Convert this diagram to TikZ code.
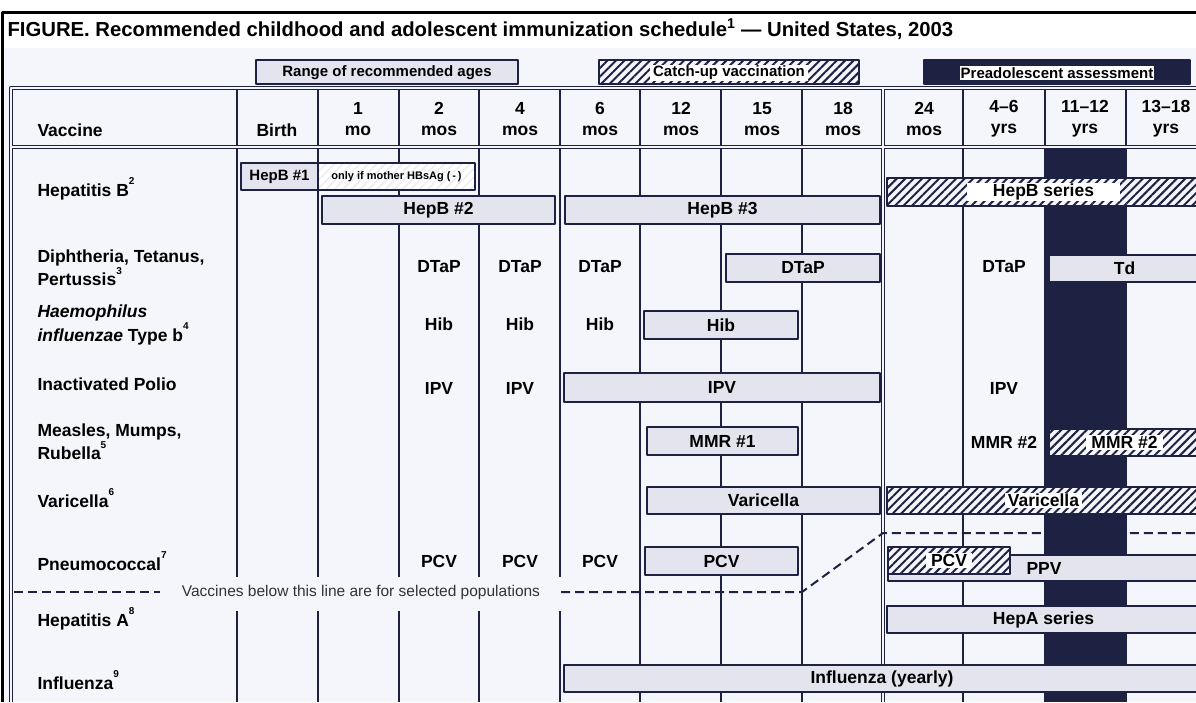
\documentclass[tikz,border=0pt]{standalone}
\usepackage{fontspec}
\setmainfont{Liberation Sans}
\usetikzlibrary{fit,patterns.meta}

\definecolor{navy}{HTML}{1E2242}
\definecolor{lavender}{HTML}{E4E4EF}
\definecolor{paper}{HTML}{F5F6FB}

\tikzset{
  hdr/.style={font=\bfseries\fontsize{17.5}{21}\selectfont,align=center},
  vac/.style={font=\bfseries\fontsize{17.5}{22}\selectfont,align=left,anchor=west},
  dose/.style={font=\bfseries\fontsize{17.5}{18}\selectfont},
  bar/.style={draw=navy,line width=1.6pt,fill=lavender,inner sep=0pt},
  catchup/.style={draw=navy,line width=1.6pt,inner sep=0pt,preaction={fill=paper},
    pattern={Lines[angle=45,distance=6pt,line width=2pt]},pattern color=navy},
  faint/.style={draw=navy,line width=1.6pt,inner sep=0pt,preaction={fill=white},
    pattern={Lines[angle=45,distance=6pt,line width=1.5pt]},pattern color=lavender!70},
  every label/.style={inner sep=0pt,font=\bfseries\fontsize{17.5}{18}\selectfont},
  tag/.style={fill=white,inner ysep=1pt},
  keytext/.style={font=\bfseries\fontsize{15}{15}\selectfont,yshift=-1pt},
  gridline/.style={navy,line width=2.4pt},
  sepline/.style={navy,line width=2pt,dash pattern=on 9pt off 5pt},
}
\newcommand{\fnote}[1]{\raisebox{1.25ex}{\fontsize{10}{10}\selectfont #1}}

\begin{document}
\begin{tikzpicture}[x=1pt,y=-1pt,line join=round]
\useasboundingbox (0,0) rectangle (1196,702);
\clip (0,0) rectangle (1196,702);
\fill[white] (0,0) rectangle (1196,702);
\fill[paper] (3,48) rectangle (1196,702);
\draw[black,line width=3pt] (2.5,702) -- (2.5,12) -- (1196,12);

\node[anchor=west,font=\bfseries\fontsize{20.3}{22}\selectfont] (title) at (4,29)
  {FIGURE. Recommended childhood and adolescent immunization schedule\textsuperscript{1} --- United States, 2003};

% key
\node[bar,fit={(256,60) (518,84)},label={[keytext]center:Range of recommended ages}] (rangekey) {};
\node[catchup,fit={(599,60) (859,84)},
  label={[tag,keytext,inner xsep=3pt]center:Catch-up vaccination}] (catchkey) {};
\node[draw=navy,fill=navy,line width=1.6pt,inner sep=0pt,fit={(924,60) (1190,84)},
  label={[tag,keytext,inner sep=1pt]center:Preadolescent assessment}] (prekey) {};

\fill[navy] (1045,147) rectangle (1126,702);
\foreach \x in {237,318,399,479,560,640,721,802,963,1045,1126}
  \draw[gridline] (\x,88) -- (\x,702);
\draw[navy,line width=1.3pt,double=paper,double distance=1.6pt]
  (883,88) -- (883,702)
  (11,702) -- (11,88) -- (1196,88)
  (11,147) -- (1196,147);

\node[vac] (vaccine) at (34,130) {Vaccine};
\node[hdr] (birth) at (277,130) {Birth};
\node[hdr] (mo1) at (358,119) {1\\mo};
\node[hdr] (mo2) at (439,119) {2\\mos};
\node[hdr] (mo4) at (520,119) {4\\mos};
\node[hdr] (mo6) at (600,119) {6\\mos};
\node[hdr] (mo12) at (681,119) {12\\mos};
\node[hdr] (mo15) at (762,119) {15\\mos};
\node[hdr] (mo18) at (843,119) {18\\mos};
\node[hdr] (mo24) at (924,119) {24\\mos};
\node[hdr] (yr4) at (1004,119) {4--6\\yrs};
\node[hdr] (yr11) at (1085,119) {11--12\\yrs};
\node[hdr] (yr13) at (1166,119) {13--18\\yrs};

\node[vac] (hepb) at (34,189) {Hepatitis B\fnote{2}};
\node[vac] (dtp) at (34,268) {Diphtheria, Tetanus,\\Pertussis\fnote{3}};
\node[vac] (hib) at (34,325) {\textit{Haemophilus}\\\textit{influenzae} Type b\fnote{4}};
\node[vac] (polio) at (34,384) {Inactivated Polio};
\node[vac] (mmr) at (34,442) {Measles, Mumps,\\Rubella\fnote{5}};
\node[vac] (vari) at (34,498) {Varicella\fnote{6}};
\node[vac] (pneumo) at (34,561) {Pneumococcal\fnote{7}};
\node[vac] (hepa) at (34,619) {Hepatitis A\fnote{8}};
\node[vac] (flu) at (34,680) {Influenza\fnote{9}};

% selected populations
\fill[paper] (165,577) rectangle (565,611);
\draw[sepline] (14,592) -- (160,592);
\draw[sepline] (561,592) -- (802,592) -- (883,533) -- (1196,533);
\node[font=\fontsize{15.5}{16}\selectfont,text=black!80] (selnote) at (361,592)
  {Vaccines below this line are for selected populations};

\node[bar,fit={(241,163) (318,190)},
  label={[font=\bfseries\fontsize{15}{15}\selectfont]center:HepB \#1}] (hepbone) {};
\node[faint,fit={(318,163) (475,190)},
  label={[font=\bfseries\fontsize{11}{11}\selectfont]center:only if mother HBsAg (\,-\,)}] (hbsag) {};
\node[bar,fit={(322,196) (555,224)},label={center:HepB \#2}] (hepbtwo) {};
\node[bar,fit={(565,196) (880,224)},label={center:HepB \#3}] (hepbthree) {};
\node[catchup,fit={(887,178) (1200,206)},label={[tag,inner xsep=26pt]center:HepB series}] (hepbcatch) {};

\foreach \x [count=\i] in {439,520,600,1004}
  \node[dose] (dtap\i) at (\x,267) {DTaP};
\node[bar,fit={(726,254) (880,282)},label={center:DTaP}] (dtapbar) {};
\node[bar,fit={(1049,255) (1200,282)},label={center:Td}] (tdbar) {};

\foreach \x [count=\i] in {439,520,600}
  \node[dose] (hib\i) at (\x,324) {Hib};
\node[bar,fit={(644,311) (798,339)},label={center:Hib}] (hibbar) {};

\foreach \x [count=\i] in {439,520,1004}
  \node[dose] (ipv\i) at (\x,388) {IPV};
\node[bar,fit={(564,373) (880,402)},label={center:IPV}] (ipvbar) {};

\node[bar,fit={(647,427) (798,455)},label={center:MMR \#1}] (mmrone) {};
\node[dose] (mmrtwo) at (1004,442) {MMR \#2};
\node[catchup,fit={(1049,429) (1200,456)},label={[tag,inner xsep=5pt]center:MMR \#2}] (mmrcatch) {};

\node[bar,fit={(647,487) (880,514)},label={center:Varicella}] (varbar) {};
\node[catchup,fit={(887,487) (1200,514)},label={[tag,inner xsep=3pt]center:Varicella}] (varcatch) {};

\foreach \x [count=\i] in {439,520,600}
  \node[dose] (pcv\i) at (\x,561) {PCV};
\node[bar,fit={(645,547) (798,575)},label={center:PCV}] (pcvbar) {};
\node[bar,fit={(888,555) (1200,581)},label={center:PPV}] (ppvbar) {};
\node[catchup,fit={(888,547) (1010,574)},label={[tag,inner xsep=5pt]center:PCV}] (pcvcatch) {};

\node[bar,fit={(887,606) (1200,633)},label={center:HepA series}] (hepabar) {};
\node[bar,fit={(564,665) (1200,692)},label={center:Influenza (yearly)}] (flubar) {};
\end{tikzpicture}
\end{document}
